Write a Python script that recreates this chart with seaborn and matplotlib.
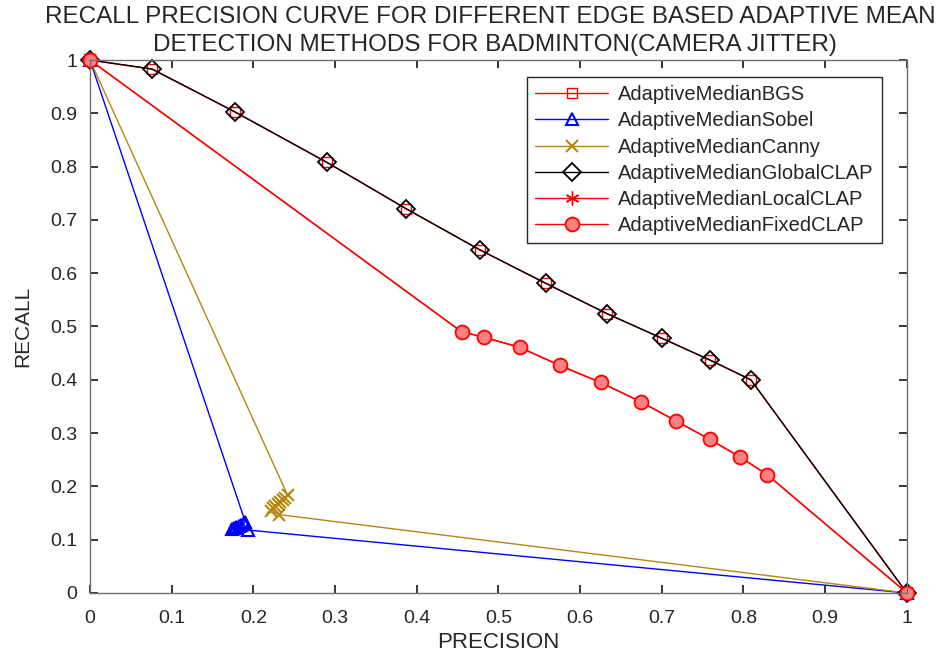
import numpy as np
import matplotlib
matplotlib.use("Agg")
import matplotlib.pyplot as plt
import seaborn as sns
import pandas as pd

# Series values
bgs_x = [0, 0.076, 0.177, 0.290, 0.387, 0.477, 0.558, 0.633, 0.700, 0.759, 0.809, 1]
bgs_y = [1, 0.983, 0.903, 0.808, 0.721, 0.644, 0.581, 0.524, 0.478, 0.437, 0.400, 0]

sobel_x = [0, 0.190, 0.188, 0.185, 0.182, 0.179, 0.176, 0.174, 0.194, 1]
sobel_y = [1, 0.134, 0.131, 0.128, 0.125, 0.123, 0.121, 0.120, 0.118, 0]

canny_x = [0, 0.242, 0.239, 0.236, 0.233, 0.230, 0.227, 0.224, 0.221, 0.232, 1]
canny_y = [1, 0.183, 0.179, 0.175, 0.171, 0.167, 0.163, 0.159, 0.154, 0.147, 0]

global_x = bgs_x
global_y = bgs_y

fixed_x = [0, 0.455, 0.482, 0.526, 0.575, 0.625, 0.674, 0.717, 0.759, 0.796, 0.829, 1]
fixed_y = [1, 0.490, 0.480, 0.461, 0.427, 0.395, 0.359, 0.323, 0.288, 0.255, 0.222, 0]

local_x = fixed_x
local_y = fixed_y

labels = ["AdaptiveMedianBGS", "AdaptiveMedianSobel", "AdaptiveMedianCanny",
          "AdaptiveMedianGlobalCLAP", "AdaptiveMedianLocalCLAP", "AdaptiveMedianFixedCLAP"]
tick_vals = np.round(np.arange(0, 1.01, 0.1), 1)
tick_labels = ["0", "0.1", "0.2", "0.3", "0.4", "0.5", "0.6", "0.7", "0.8", "0.9", "1"]

sns.set_style("ticks")
plt.rcParams["font.family"] = ["Liberation Sans", "DejaVu Sans"]

fig = plt.figure(figsize=(9.51, 6.58), dpi=100)
ax = fig.add_axes([0.0946, 0.0988, 0.859, 0.81])

gold = "#B8860B"
series = [
    (bgs_x, bgs_y, dict(color="red", marker="s", markersize=7, markerfacecolor="none",
                        markeredgecolor="red", markeredgewidth=1.0)),
    (sobel_x, sobel_y, dict(color="blue", marker="^", markersize=9, markerfacecolor="none",
                            markeredgecolor="blue", markeredgewidth=1.5)),
    (canny_x, canny_y, dict(color=gold, marker="x", markersize=9,
                            markeredgecolor=gold, markeredgewidth=1.5)),
    (global_x, global_y, dict(color="black", marker="D", markersize=9,
                              markerfacecolor="none", markeredgecolor="black",
                              markeredgewidth=1.3)),
    (local_x, local_y, dict(color="red", marker=(6, 2, 0), markersize=10,
                            markeredgecolor="red", markeredgewidth=1.0)),
    (fixed_x, fixed_y, dict(color="red", marker="o", markersize=10,
                            markerfacecolor="#FF8080", markeredgecolor="red",
                            markeredgewidth=1.3)),
]

for (xs, ys, style), lab in zip(series, labels):
    df = pd.DataFrame({"precision": xs, "recall": ys})
    sns.lineplot(data=df, x="precision", y="recall", sort=False, estimator=None,
                 ax=ax, label=lab, linewidth=1.0, clip_on=False, **style)

ax.set_xlim(0, 1)
ax.set_ylim(0, 1)
ax.set_xticks(tick_vals)
ax.set_yticks(tick_vals)
ax.set_xticklabels(tick_labels)
ax.set_yticklabels(tick_labels)
ax.tick_params(direction="in", top=True, right=True, length=6, width=1.3,
               labelsize=14, color="#262626", labelcolor="#262626")
ax.tick_params(axis="x", pad=12)
ax.tick_params(axis="y", pad=9)
for sp in ax.spines.values():
    sp.set_visible(True)
    sp.set_color("#707070")
    sp.set_linewidth(1.0)

ax.set_xlabel("PRECISION", fontsize=16)
ax.set_ylabel("RECALL", fontsize=15)
ax.xaxis.set_label_coords(0.5, -0.074)
ax.yaxis.set_label_coords(-0.071, 0.5)

fig.text(0.516, 0.974, "RECALL PRECISION CURVE FOR DIFFERENT EDGE BASED ADAPTIVE MEAN",
         ha="center", va="center", fontsize=17.5)
fig.text(0.52, 0.932, "DETECTION METHODS FOR BADMINTON(CAMERA JITTER)",
         ha="center", va="center", fontsize=17.5)

leg = ax.legend(loc="upper right", bbox_to_anchor=(0.969, 0.968), fontsize=14.5,
                frameon=True, fancybox=False, edgecolor="#262626", framealpha=1,
                handlelength=3.6, handletextpad=0.5, labelspacing=0.36,
                borderpad=0.4, borderaxespad=0)
leg.get_frame().set_linewidth(1.0)

fig.savefig("out.png", dpi=100)
